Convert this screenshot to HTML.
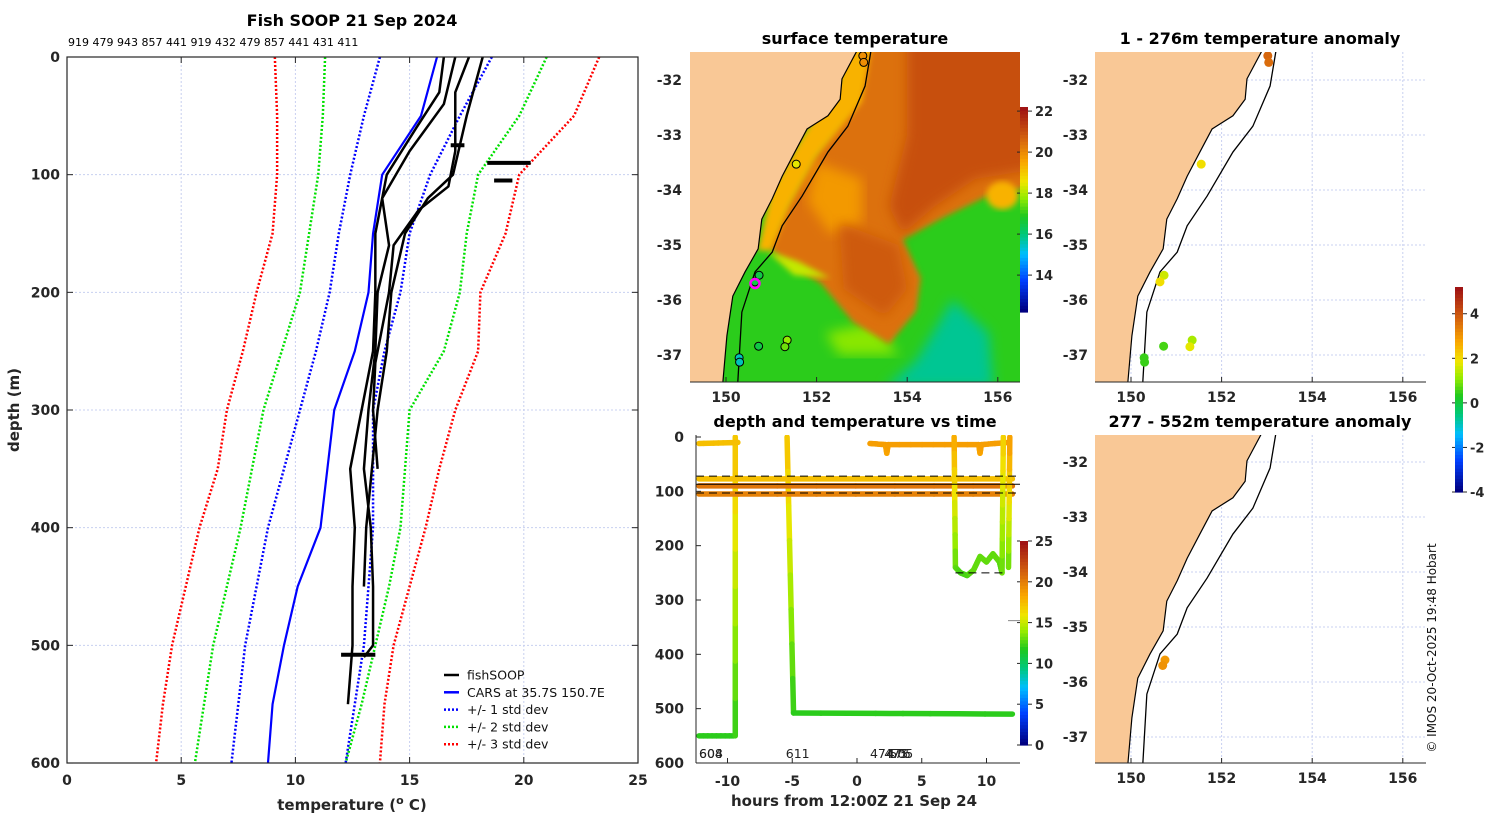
<!DOCTYPE html>
<html><head><meta charset="utf-8"><style>
body{margin:0;background:#fff;}
svg text{font-family:"DejaVu Sans","Liberation Sans",sans-serif;}
.tk{font-size:14px;font-weight:bold;fill:#262626;}
.tt{font-size:16px;font-weight:bold;fill:#000;}
.pl{font-weight:normal;}
</style></head><body>
<svg id="fig" width="1500" height="820" viewBox="0 0 1500 820" xmlns="http://www.w3.org/2000/svg">
<defs>
<clipPath id="cpMain"><rect x="67" y="57" width="571" height="706"/></clipPath>
<clipPath id="cpSST"><rect x="690" y="52" width="330" height="330"/></clipPath>
<clipPath id="cpA1"><rect x="1095" y="52" width="331" height="330"/></clipPath>
<clipPath id="cpA2"><rect x="1095" y="435" width="331" height="328"/></clipPath>
<clipPath id="cpT"><rect x="696" y="435" width="324" height="328"/></clipPath>
<filter id="blur6"><feGaussianBlur stdDeviation="6"/></filter>
<filter id="blur3"><feGaussianBlur stdDeviation="3"/></filter>
</defs>
<g id="root"></g>
</svg>
<script>
// ---------- data: main profile panel ----------
const stdDepths=[0,50,100,150,200,250,300,350,400,450,500,550,600];
const sdRedL=[9.1,9.2,9.2,9.0,8.3,7.7,7.0,6.6,5.8,5.2,4.6,4.2,3.9];
const sdGreenL=[11.3,11.2,11.0,10.6,10.2,9.4,8.6,8.1,7.6,7.0,6.4,6.0,5.6];
const sdBlueL=[13.7,13.0,12.4,11.9,11.5,10.9,10.2,9.5,8.8,8.3,7.8,7.5,7.2];
const carsT=[16.2,15.5,13.8,13.4,13.2,12.6,11.7,11.4,11.1,10.1,9.5,9.0,8.8];
const sdBlueR=[18.6,17.2,15.9,15.0,14.6,13.9,13.4,13.4,13.4,13.2,13.0,12.6,12.2];
const sdGreenR=[21.0,19.8,18.0,17.5,17.2,16.5,15.0,14.8,14.6,14.1,13.5,12.9,12.2];
const sdRedR=[23.3,22.2,19.8,19.2,18.1,18.0,17.0,16.3,15.7,15.0,14.3,13.9,13.7];
const fishDepths1=[0,30,60,100,110,150,200,250,300,350,400,450,500,550];
const fishT1=[16.5,16.3,15.3,14.0,13.9,13.5,13.5,13.4,12.9,12.4,12.6,12.5,12.5,12.3];
const fishDepths2=[0,40,80,120,160,200,250,300,350,400,450,500,510];
const fishT2=[17.0,16.5,15.0,13.8,14.1,13.6,13.5,13.2,13.0,13.3,13.4,13.4,13.0];
const fishDepths3=[0,30,80,110,130,160,200,260,300,350];
const fishT3=[17.6,17.0,17.0,16.7,15.4,14.3,14.1,13.5,13.4,13.6];
const fishDepths4=[0,50,100,120,150,200,250,300,400,450];
const fishT4=[18.2,17.5,16.9,15.8,14.8,14.2,14.0,13.6,13.1,13.0];
const blipDepths=[75,90,105,508];
const blipTmin=[16.8,18.4,18.7,12.0];
const blipTmax=[17.4,20.3,19.5,13.5];
const xTicks=[0,5,10,15,20,25];
const yTicks=[0,100,200,300,400,500,600];
const topIds="919 479 943 857 441 919 432 479 857 441 431 411";

// ---------- data: time panel ----------
const trkHours=[[-12.2,-9.5],[-9.4,-9.4],[-12.2,-9.2],[-5.4,-4.9],[-4.9,12.0],[-12.2,12.0],[-12.2,12.0],[-12.2,12.0],[1.0,2.2,2.3,2.4,9.4,9.5,9.6,11.7],[7.5,7.6,8.0,8.5,9.0,9.5,10.0,10.5,11.0,11.2],[11.2,11.3],[11.7,11.8]];
const trkDepths=[[550,550],[550,0],[12,10],[0,508],[508,510],[77,77],[90,90],[105,105],[12,14,30,14,14,30,14,10],[0,240,250,255,245,220,230,215,230,250],[250,0],[240,0]];
const trkTemps=[[12,12],[12,17.5],[17.5,17.5],[17.5,12],[12,12],[17.5,17.5],[20.5,20.5],[20,20],[18.8,18.8,18.5,18.8,18.8,18.5,18.8,18.8],[18.5,13,12.5,12.5,13,13,13,13,13,12.5],[13,17],[13,19]];
const dashDepths=[72,103];
const solidDepths=[87];
const hTicks=[-10,-5,0,5,10];
const dTicks=[0,100,200,300,400,500,600];
const tLabelsText=["604","608","611","474","475","476","505"];
const tLabelsHour=[-12.2,-12.2,-5.5,1.0,2.1,2.3,2.5];

// ---------- data: maps ----------
const coastLon=[152.89,152.56,152.52,152.25,151.79,151.52,151.24,151.02,150.79,150.71,150.42,150.15,150.02,149.93];
const coastLat=[-31.47,-31.98,-32.35,-32.65,-32.89,-33.31,-33.75,-34.16,-34.53,-35.07,-35.49,-35.93,-36.65,-37.5];
const isoLon=[153.20,153.07,152.69,152.25,151.68,151.24,151.02,150.64,150.35,150.26];
const isoLat=[-31.47,-32.11,-32.84,-33.31,-34.11,-34.65,-35.13,-35.49,-36.22,-37.5];
const stnLon=[153.02,153.04,151.55,150.73,150.64,151.35,151.30,150.72,150.29,150.30];
const stnLat=[-31.56,-31.68,-33.53,-35.55,-35.67,-36.73,-36.85,-36.84,-37.05,-37.13];
const stnSST=[20.0,20.0,18.5,16.5,16.5,17.8,17.5,16.5,15.5,15.5];
const stnAnom=[3.8,3.7,2.0,1.6,2.0,1.3,1.8,0.6,0.5,0.5];
const deepLon=[150.75,150.70];
const deepLat=[-35.6,-35.7];
const deepAnom=[3.0,3.1];
const lonTicks=[150,152,154,156];
const latTicks=[-32,-33,-34,-35,-36,-37];
const sstCbTicks=[14,16,18,20,22];
const anomCbTicks=[-4,-2,0,2,4];
const timeCbTicks=[0,5,10,15,20,25];

// ---------- helpers ----------
const NS="http://www.w3.org/2000/svg";
const root=document.getElementById('root');
function mk(tag,attrs,parent){const e=document.createElementNS(NS,tag);for(const k in attrs)e.setAttribute(k,attrs[k]);(parent||root).appendChild(e);return e;}
function txt(x,y,s,cls,anchor,parent,extra){const t=mk('text',Object.assign({x:x,y:y,'class':(cls==null?'tk':cls),'text-anchor':anchor||'middle'},extra||{}),parent);t.textContent=s;return t;}
const cmapStops=[[0,[0,0,128]],[0.15,[0,64,255]],[0.28,[0,190,255]],[0.38,[0,200,120]],[0.47,[30,200,30]],[0.56,[150,235,0]],[0.64,[240,230,0]],[0.74,[250,165,0]],[0.86,[210,95,15]],[1,[160,20,20]]];
function cmap(f){f=Math.max(0,Math.min(1,f));for(let i=1;i<cmapStops.length;i++){if(f<=cmapStops[i][0]){const a=cmapStops[i-1],b=cmapStops[i];const u=(f-a[0])/(b[0]-a[0]);const c=a[1].map((v,j)=>Math.round(v+(b[1][j]-v)*u));return `rgb(${c[0]},${c[1]},${c[2]})`;}}return 'rgb(160,20,20)';}

// ---------- main panel ----------
const X=t=>67+t*22.84, Y=d=>57+d*1.1767;
const gMain=mk('g',{});
txt(352,26,'Fish SOOP 21 Sep 2024','tt','middle',gMain);
const ids=txt(68,46,topIds,'pl','start',gMain,{style:'font-size:11px;fill:#000'});


for(const t of xTicks.slice(1,-1)){const l=mk('line',{x1:X(t),x2:X(t),y1:57,y2:763,stroke:'#c8d0f0','stroke-dasharray':'2,2','stroke-width':1},gMain);}
for(const d of yTicks.slice(1,-1)){const l=mk('line',{x1:67,x2:638,y1:Y(d),y2:Y(d),stroke:'#c8d0f0','stroke-dasharray':'2,2','stroke-width':1},gMain);}
const gLines=mk('g',{'clip-path':'url(#cpMain)'},gMain);
function prof(temps,depths,color,dash,w,name){const p=mk('polyline',{points:temps.map((t,i)=>X(t)+','+Y(depths[i])).join(' '),fill:'none',stroke:color,'stroke-width':w,'stroke-dasharray':dash||'none','stroke-linejoin':'round'},gLines);

}
prof(sdRedL,stdDepths,'#ff0000','2,2',2.5,'minus-3std-line');
prof(sdGreenL,stdDepths,'#00e000','2,2',2.5,'minus-2std-line');
prof(sdBlueL,stdDepths,'#0000ff','2,2',2.5,'minus-1std-line');
prof(sdBlueR,stdDepths,'#0000ff','2,2',2.5,'plus-1std-line');
prof(sdGreenR,stdDepths,'#00e000','2,2',2.5,'plus-2std-line');
prof(sdRedR,stdDepths,'#ff0000','2,2',2.5,'plus-3std-line');
prof(carsT,stdDepths,'#0000ff','',2.2,'cars-line');
prof(fishT1,fishDepths1,'#000','',2.5,'fishsoop-profile-1');
prof(fishT2,fishDepths2,'#000','',2.5,'fishsoop-profile-2');
prof(fishT3,fishDepths3,'#000','',2.5,'fishsoop-profile-3');
prof(fishT4,fishDepths4,'#000','',2.5,'fishsoop-profile-4');
blipDepths.forEach((d,i)=>{const l=mk('line',{x1:X(blipTmin[i]),x2:X(blipTmax[i]),y1:Y(d),y2:Y(d),stroke:'#000','stroke-width':4},gLines);});
mk('rect',{x:67,y:57,width:571,height:706,fill:'none',stroke:'#262626','stroke-width':1.2},gMain);
for(const t of xTicks){mk('line',{x1:X(t),x2:X(t),y1:763,y2:757,stroke:'#262626'},gMain);mk('line',{x1:X(t),x2:X(t),y1:57,y2:63,stroke:'#262626'},gMain);txt(X(t),785,String(t),'tk','middle',gMain);}
for(const d of yTicks){mk('line',{x1:67,x2:73,y1:Y(d),y2:Y(d),stroke:'#262626'},gMain);mk('line',{x1:638,x2:632,y1:Y(d),y2:Y(d),stroke:'#262626'},gMain);txt(60,Y(d)+5,String(d),'tk','end',gMain);}
const xl=txt(352,810,'temperature (','tk','middle',gMain,{style:'font-size:15px'});
xl.innerHTML='temperature (<tspan dy="-6" font-size="11">o</tspan><tspan dy="6"> C)</tspan>';
const yl=txt(0,0,'depth (m)','tk','middle',gMain,{transform:'translate(19,410) rotate(-90)',style:'font-size:15px'});
const legItems=[['fishSOOP','#000',''],['CARS at 35.7S 150.7E','#0000ff',''],['+/- 1 std dev','#0000ff','2,2'],['+/- 2 std dev','#00e000','2,2'],['+/- 3 std dev','#ff0000','2,2']];
const gLeg=mk('g',{},gMain);
legItems.forEach((it,i)=>{const y=675+i*17.3;const e=mk('g',{},gLeg);mk('line',{x1:444,x2:459,y1:y,y2:y,stroke:it[1],'stroke-width':2.5,'stroke-dasharray':it[2]||'none'},e);txt(467,y+4.5,it[0],'pl','start',e,{style:'font-size:12.5px;fill:#111'});});

// ---------- maps ----------
function MX(lon,ox){return ox+(lon-150)*45.3;}
function MY(lat,oy){return oy-(lat+32)*55;}
function landPath(ox,oy,x0,y0,h){let s=`M${x0-5},${y0-5} `;coastLon.forEach((l,i)=>{s+=`L${MX(l,ox)},${MY(coastLat[i],oy)} `;});s+=`L${MX(coastLon[coastLon.length-1],ox)},${y0+h+10} L${x0-5},${y0+h+10} Z`;return s;}
function coastline(gc,ox,oy){const c=mk('polyline',{points:coastLon.map((l,i)=>MX(l,ox)+','+MY(coastLat[i],oy)).join(' '),fill:'none',stroke:'#000','stroke-width':1.2},gc);
const iso=mk('polyline',{points:isoLon.map((l,i)=>MX(l,ox)+','+MY(isoLat[i],oy)).join(' '),fill:'none',stroke:'#000','stroke-width':1.3},gc);}
function axesFrame(g,ox,oy,x0,y0,w,h,latT){
  mk('line',{x1:x0,x2:x0+w,y1:y0+h,y2:y0+h,stroke:'#262626'},g);
  for(const l of lonTicks){mk('line',{x1:MX(l,ox),x2:MX(l,ox),y1:y0+h,y2:y0+h-5,stroke:'#262626'},g);txt(MX(l,ox),y0+h+20,String(l),'tk','middle',g);}
  for(const l of latT){txt(x0-8,MY(l,oy)+5,String(l),'tk','end',g);}
}
// SST map
const gS=mk('g',{});
txt(855,44,'surface temperature','tt','middle',gS);
const gSc=mk('g',{'clip-path':'url(#cpSST)'},gS);
const oxS=726,oyS=80;
mk('rect',{x:690,y:52,width:330,height:330,fill:cmap(0.48)},gSc);
function poly(pts,fill,g,filt,name){const p=mk('polygon',{points:pts.map(p=>MX(p[0],oxS)+','+MY(p[1],oyS)).join(' '),fill:fill},g);if(filt)p.setAttribute('filter',filt);return p;}
poly([[155.0,-36.0],[155.8,-36.6],[155.9,-37.6],[153.5,-37.6],[154.2,-37.1]],cmap(0.36),gSc,'url(#blur6)','sst-cool-patch');
poly([[152.2,-36.6],[153.3,-36.4],[153.8,-37.0],[152.5,-37.0]],cmap(0.55),gSc,'url(#blur6)','sst-yellow-filament');
poly([[153.4,-31.0],[157,-31.0],[157,-33.9],[155.8,-34.1],[154.8,-34.5],[153.9,-34.9],[154.3,-35.6],[154.2,-36.2],[153.6,-36.8],[152.8,-36.4],[152.1,-35.7],[151.2,-35.25],[150.9,-35.0],[151.3,-34.3],[151.9,-33.4],[152.6,-32.6],[153.0,-31.0]],cmap(0.83),gSc,'url(#blur3)','sst-warm-region');
poly([[154.0,-31.0],[157,-31.0],[157,-33.6],[155.5,-33.8],[154.6,-34.3],[153.9,-34.8],[153.6,-34.3],[154.0,-33.0]],cmap(0.89),gSc,'url(#blur6)','sst-hot-core');
poly([[152.0,-33.5],[153.0,-33.8],[153.0,-34.6],[152.3,-34.8],[151.8,-34.2]],cmap(0.76),gSc,'url(#blur6)','sst-mid-patch');
poly([[152.5,-34.6],[153.8,-35.0],[154.0,-35.8],[153.5,-36.3],[152.6,-35.8]],cmap(0.87),gSc,'url(#blur6)','sst-eddy');
poly([[152.8,-31.0],[153.3,-31.0],[153.0,-32.4],[152.0,-33.4],[151.4,-34.3],[151.0,-35.1],[150.7,-35.1],[151.0,-34.0],[151.7,-33.0],[152.5,-32.0]],cmap(0.72),gSc,'url(#blur3)','sst-coastal-band');
poly([[150.9,-35.1],[151.6,-35.3],[152.3,-35.6],[151.5,-35.55]],cmap(0.6),gSc,'url(#blur3)','sst-front');
mk('ellipse',{cx:MX(156.1,oxS),cy:MY(-34.1,oyS),rx:16,ry:14,fill:cmap(0.72),filter:'url(#blur3)'},gSc);
mk('path',{d:landPath(oxS,oyS,690,52,330),fill:'#f9c896'},gSc);
coastline(gSc,oxS,oyS);
stnLon.forEach((l,i)=>{const c=mk('circle',{cx:MX(l,oxS),cy:MY(stnLat[i],oyS),r:4,fill:cmap((stnSST[i]-12.2)/10),stroke:'#000','stroke-width':1},gSc);});
mk('circle',{cx:MX(150.64,oxS),cy:MY(-35.7,oyS),r:4.5,fill:'none',stroke:'#ff00ff','stroke-width':2.5},gSc);
axesFrame(gS,oxS,oyS,690,52,330,330,latTicks);
function colorbar(g,x,y0,y1,vmin,vmax,ticks,name){const gb=mk('g',{},g);const n=60;for(let i=0;i<n;i++){const yy=y1-(i+1)*(y1-y0)/n;mk('rect',{x:x,y:yy,width:8,height:(y1-y0)/n+0.6,fill:cmap(i/(n-1))},gb);}
for(const t of ticks){const yy=y1-(t-vmin)/(vmax-vmin)*(y1-y0);mk('line',{x1:x+8,x2:x+12,y1:yy,y2:yy,stroke:'#262626'},gb);mk('line',{x1:x-3,x2:x,y1:yy,y2:yy,stroke:'#262626'},gb);txt(x+15,yy+5,String(t),'tk','start',gb,{style:'font-size:13px'});}}
colorbar(gS,1020,107,312,12.2,22.2,sstCbTicks,'sst-colorbar');

function anomMap(oy,y0,h,clip,title,lons,lats,vals,name){
  const g=mk('g',{});
  txt(1260,y0-8,title,'tt','middle',g);
  const gc=mk('g',{'clip-path':`url(#${clip})`},g);
  const latT=latTicks.filter(l=>MY(l,oy)>y0+5&&MY(l,oy)<y0+h-5);
  for(const l of lonTicks)mk('line',{x1:MX(l,1131),x2:MX(l,1131),y1:y0,y2:y0+h,stroke:'#c8d0f0','stroke-dasharray':'2,2'},gc);
  for(const l of latT)mk('line',{x1:1095,x2:1426,y1:MY(l,oy),y2:MY(l,oy),stroke:'#c8d0f0','stroke-dasharray':'2,2'},gc);
  mk('path',{d:landPath(1131,oy,1095,y0,h),fill:'#f9c896'},gc);
  coastline(gc,1131,oy);
  lons.forEach((l,i)=>{const c=mk('circle',{cx:MX(l,1131),cy:MY(lats[i],oy),r:4.5,fill:cmap((vals[i]+4)/9.2)},gc);});
  mk('line',{x1:1095,x2:1426,y1:y0+h,y2:y0+h,stroke:'#262626'},g);
  for(const l of lonTicks){mk('line',{x1:MX(l,1131),x2:MX(l,1131),y1:y0+h,y2:y0+h-5,stroke:'#262626'},g);txt(MX(l,1131),y0+h+20,String(l),'tk','middle',g);}
  for(const l of latT)txt(1088,MY(l,oy)+5,String(l),'tk','end',g);
  return g;}
anomMap(80,52,330,'cpA1','1 - 276m temperature anomaly',stnLon,stnLat,stnAnom,'anomaly-map-shallow');
anomMap(462,435,328,'cpA2','277 - 552m temperature anomaly',deepLon,deepLat,deepAnom,'anomaly-map-deep');
colorbar(root,1455,287,492,-4,5.2,anomCbTicks,'anomaly-colorbar');
const cr=txt(0,0,'© IMOS 20-Oct-2025 19:48 Hobart','pl','middle',root,{transform:'translate(1436,648) rotate(-90)',style:'font-size:12px;fill:#111'});


// ---------- time panel ----------
const TX=h=>857+h*12.95, TY=d=>437+d*0.5433;
const gT=mk('g',{});
txt(855,427,'depth and temperature vs time','tt','middle',gT);
const gTc=mk('g',{'clip-path':'url(#cpT)'},gT);
trkHours.forEach((hs,k)=>{for(let i=0;i<hs.length-1;i++){const n=8;for(let j=0;j<n;j++){const u0=j/n,u1=(j+1)/n;const h0=hs[i]+(hs[i+1]-hs[i])*u0,h1=hs[i]+(hs[i+1]-hs[i])*u1;const d0=trkDepths[k][i]+(trkDepths[k][i+1]-trkDepths[k][i])*u0,d1=trkDepths[k][i]+(trkDepths[k][i+1]-trkDepths[k][i])*u1;const tm=trkTemps[k][i]+(trkTemps[k][i+1]-trkTemps[k][i])*(u0+u1)/2;const s=mk('line',{x1:TX(h0),x2:TX(h1),y1:TY(d0),y2:TY(d1),stroke:cmap(tm/25),'stroke-width':5.5,'stroke-linecap':'round'},gTc);}}});
for(const d of dashDepths){const l=mk('line',{x1:696,x2:1020,y1:TY(d),y2:TY(d),stroke:'#000','stroke-dasharray':'8,5','stroke-width':1},gTc);}
for(const d of solidDepths){const l=mk('line',{x1:696,x2:1020,y1:TY(d),y2:TY(d),stroke:'#000','stroke-width':1},gTc);}
mk('line',{x1:TX(7.6),x2:TX(11.3),y1:TY(250),y2:TY(250),stroke:'#000','stroke-dasharray':'8,5'},gTc);
mk('line',{x1:1008,x2:1020,y1:TY(338),y2:TY(338),stroke:'#888'},gTc);
tLabelsText.forEach((s,i)=>{const t=txt(TX(tLabelsHour[i]),758,s,'pl','start',gT,{style:'font-size:12.5px;fill:#222'});});
mk('line',{x1:696,x2:696,y1:435,y2:763,stroke:'#262626'},gT);
mk('line',{x1:696,x2:1020,y1:763,y2:763,stroke:'#262626'},gT);
for(const h of hTicks){mk('line',{x1:TX(h),x2:TX(h),y1:763,y2:758,stroke:'#262626'},gT);txt(TX(h),786,String(h),'tk','middle',gT);}
for(const d of dTicks){mk('line',{x1:696,x2:701,y1:TY(d),y2:TY(d),stroke:'#262626'},gT);txt(684,TY(d)+5,String(d),'tk','end',gT);}
txt(854,806,'hours from 12:00Z 21 Sep 24','tk','middle',gT,{style:'font-size:15px'});
colorbar(gT,1020,541,745,0,25,timeCbTicks,'time-colorbar');
</script>
</body></html>
